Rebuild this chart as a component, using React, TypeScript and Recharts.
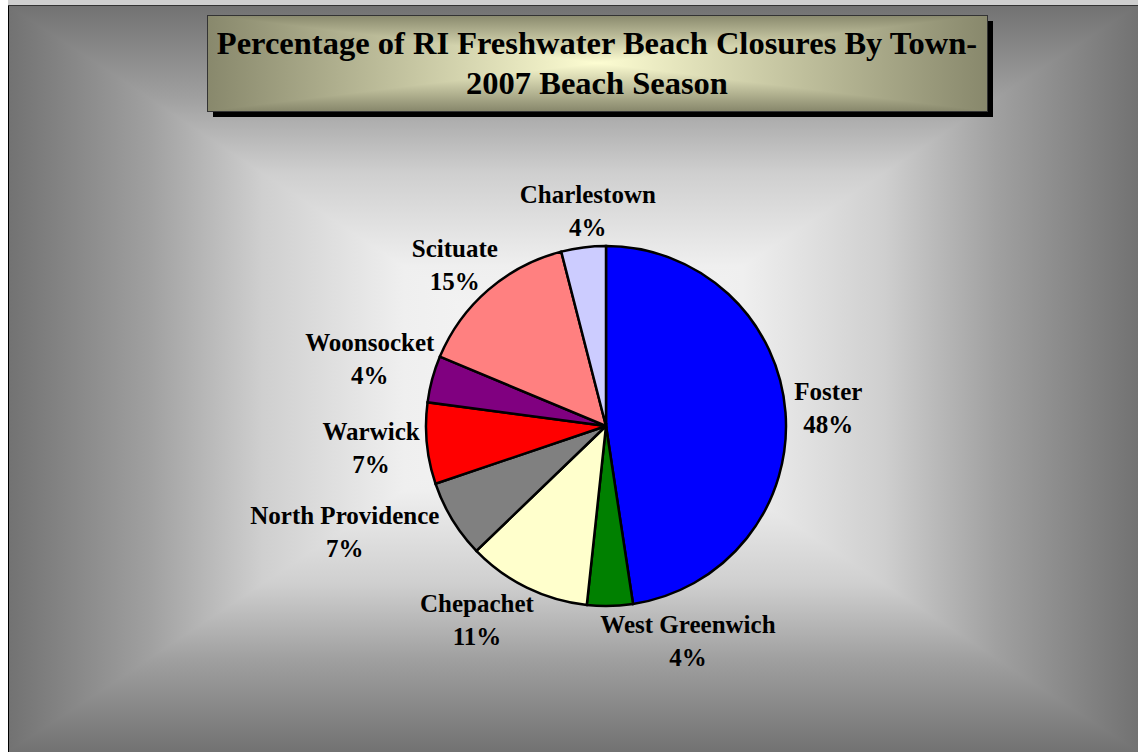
import React from 'react';
import { PieChart, Pie, Cell } from 'recharts';

// ---- data ----
const towns = ['Foster', 'West Greenwich', 'Chepachet', 'North Providence', 'Warwick', 'Woonsocket', 'Scituate', 'Charlestown'];
const closureShare = [47.6, 4.1, 11.1, 7.0, 7.3, 4.2, 14.7, 4.0];
const sliceColors = ['#0000FF', '#008000', '#FFFFCC', '#808080', '#FF0000', '#800080', '#FF8080', '#CCCCFF'];
const titleLines = ['Percentage of RI Freshwater Beach Closures By Town-', '2007 Beach Season'];

const data = towns.map((name, i) => ({ name, value: closureShare[i] }));
const total = closureShare.reduce((a, b) => a + b, 0);

// ---- layout ----
const W = 1130;
const H = 747;
const CX = 598;
const CY = 421;
const R = 180;
const LABEL_R = 225;
const FONT = '"Liberation Serif", "Times New Roman", serif';

// label layout nudges (px) applied after radial placement
const labelNudge: Record<string, [number, number]> = {
  'Foster': [-2, -2],
  'West Greenwich': [77, -10],
  'Chepachet': [-30, -9],
  'North Providence': [-69, -11],
  'Warwick': [-11, 0],
  'Woonsocket': [-19, -9],
  'Scituate': [-4, 9],
  'Charlestown': [10, 8],
};

const bgStops: [number, string][] = [
  [0, '#f8f8f8'],
  [0.3, '#efefef'],
  [0.55, '#cfcfcf'],
  [0.75, '#a0a0a0'],
  [1, '#727272'],
];
const titleStops: [number, string][] = [
  [0, '#fdfdd2'],
  [1, '#88886c'],
];

function RectGradient({ id, x, y, w, h, stops }: any) {
  const cx = x + w / 2;
  const cy = y + h / 2;
  const outer = stops[stops.length - 1][1];
  const parts = [
    { k: 't', pts: `${x},${y} ${x + w},${y} ${cx},${cy}`, x2: cx, y2: y },
    { k: 'b', pts: `${x},${y + h} ${x + w},${y + h} ${cx},${cy}`, x2: cx, y2: y + h },
    { k: 'l', pts: `${x},${y} ${x},${y + h} ${cx},${cy}`, x2: x, y2: cy },
    { k: 'r', pts: `${x + w},${y} ${x + w},${y + h} ${cx},${cy}`, x2: x + w, y2: cy },
  ];
  return (
    <g>
      <defs>
        {parts.map((p) => (
          <linearGradient key={p.k} id={`${id}-${p.k}`} gradientUnits="userSpaceOnUse" x1={cx} y1={cy} x2={p.x2} y2={p.y2}>
            {stops.map((s: [number, string], j: number) => (
              <stop key={j} offset={s[0]} stopColor={s[1]} />
            ))}
          </linearGradient>
        ))}
      </defs>
      <rect x={x} y={y} width={w} height={h} fill={outer} />
      {parts.map((p) => (
        <polygon key={p.k} points={p.pts} fill={`url(#${id}-${p.k})`} shapeRendering="crispEdges" />
      ))}
    </g>
  );
}

const renderLabel = (props: any) => {
  const { midAngle, index } = props;
  const nm = props.name ?? towns[index];
  const i = towns.indexOf(nm);
  const pct = Math.round(((i >= 0 ? closureShare[i] : props.value) / total) * 100);
  const rad = (midAngle * Math.PI) / 180;
  const [dx, dy] = labelNudge[nm] || [0, 0];
  const x = CX + LABEL_R * Math.cos(rad) + dx;
  const y = CY - LABEL_R * Math.sin(rad) + dy;
  return (
    <text key={`lbl-${nm}`} x={x} y={y} textAnchor="middle" fontFamily={FONT} fontWeight="bold" fontSize={25} fill="#000">
      <tspan x={x} y={y - 7.5}>{nm}</tspan>
      <tspan x={x} y={y + 25.5}>{pct}%</tspan>
    </text>
  );
};

export default function App() {
  const tx = 199;
  const ty = 10;
  const tw = 780;
  const th = 96;
  return (
    <div style={{ position: 'absolute', left: 0, top: 0, width: 1138, height: 752, background: '#ffffff', overflow: 'hidden' }}>
      <div style={{ position: 'absolute', left: 8, top: 0, width: 1130, height: 5, background: '#cfcfcf' }} />
      <div style={{ position: 'absolute', left: 8, top: 5, width: W, height: H }}>
        <svg width={W} height={H} style={{ position: 'absolute', left: 0, top: 0 }}>
          <RectGradient id="bg" x={0} y={0} w={W} h={H} stops={bgStops} />
          <line x1={0.5} y1={0} x2={0.5} y2={H} stroke="#000" strokeWidth={1} />
          <line x1={0} y1={0.5} x2={W} y2={0.5} stroke="#333" strokeWidth={1} />
          {/* title box */}
          <rect x={tx + 6} y={ty + 6} width={tw} height={th} fill="#000" />
          <RectGradient id="tb" x={tx} y={ty} w={tw} h={th} stops={titleStops} />
          <rect x={tx + 0.5} y={ty + 0.5} width={tw} height={th} fill="none" stroke="#333" strokeWidth={1} />
          <text x={tx + tw / 2} y={49} textAnchor="middle" fontFamily={FONT} fontWeight="bold" fontSize={32.5} fill="#000">
            {titleLines[0]}
          </text>
          <text x={tx + tw / 2} y={89} textAnchor="middle" fontFamily={FONT} fontWeight="bold" fontSize={32.5} fill="#000">
            {titleLines[1]}
          </text>
        </svg>
        <div style={{ position: 'absolute', left: 0, top: 0 }}>
          <PieChart width={W} height={H} margin={{ top: 0, right: 0, bottom: 0, left: 0 }}>
            <Pie
              data={data}
              dataKey="value"
              nameKey="name"
              cx={CX}
              cy={CY}
              outerRadius={R}
              startAngle={90}
              endAngle={-270}
              stroke="#000"
              strokeWidth={2.5}
              label={renderLabel}
              labelLine={false}
              isAnimationActive={false}
            >
              {data.map((d, i) => (
                <Cell key={d.name} fill={sliceColors[i]} stroke="#000" strokeWidth={2.5} />
              ))}
            </Pie>
          </PieChart>
        </div>
      </div>
    </div>
  );
}
